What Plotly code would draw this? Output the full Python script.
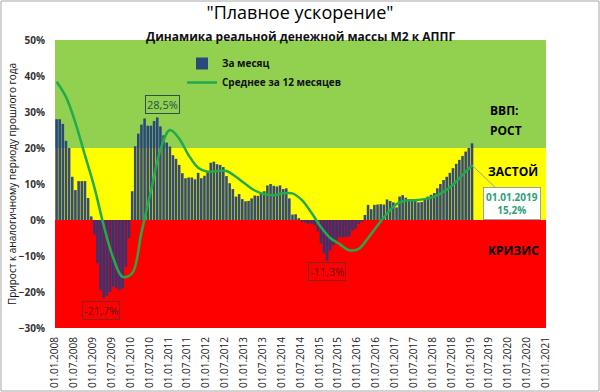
import plotly.graph_objects as go

# ---- data ----
start_year = 2008
monthly_growth = [
    # 2008
    28.0, 28.0, 26.7, 22.0, 20.0, 12.0, 8.3, 10.8, 10.8, 10.8, 6.1, 1.0,
    # 2009
    -4.0, -12.0, -19.5, -21.7, -21.0, -20.0, -18.5, -19.0, -19.5, -19.0, -13.0, -5.0,
    # 2010
    8.0, 20.5, 24.0, 26.5, 28.2, 26.2, 26.2, 27.5, 28.5, 26.0, 23.5, 21.5,
    # 2011
    20.4, 18.0, 17.0, 15.3, 13.0, 11.6, 11.8, 11.8, 11.3, 13.1, 11.6, 12.3,
    # 2012
    13.4, 15.9, 16.2, 15.5, 15.3, 14.7, 12.2, 10.2, 8.6, 6.5, 7.2, 5.8,
    # 2013
    5.2, 5.3, 6.0, 6.8, 6.7, 7.4, 8.0, 9.6, 10.0, 9.5, 9.3, 9.6,
    # 2014
    8.6, 8.8, 6.0, 1.5, 1.6, 0.5, -0.5, -0.8, -1.0, -1.0, -1.5, -3.2,
    # 2015
    -6.5, -9.3, -11.3, -8.5, -7.0, -5.5, -4.8, -4.8, -4.8, -4.5, -3.0, -2.5,
    # 2016
    -1.0, -0.5, 1.4, 4.2, 3.0, 4.2, 4.3, 4.4, 4.3, 5.7, 5.3, 4.9,
    # 2017
    3.5, 6.5, 6.9, 6.2, 5.5, 5.5, 5.5, 4.9, 5.0, 6.0, 6.5, 7.0,
    # 2018
    7.5, 8.8, 10.0, 11.1, 12.0, 13.1, 14.4, 15.6, 16.7, 17.8, 19.0, 20.0,
    # 2019
    21.3,
]

# 12-month average, read every quarter (Jan, Apr, Jul, Oct)
avg_12m = [
    38.4, 34.2, 27.0, 18.0,      # 2008
    9.0, -1.5, -10.5, -15.8,     # 2009
    -14.8, -3.5, 8.0, 19.5,      # 2010
    25.0, 22.6, 18.0, 14.5,      # 2011
    13.4, 13.6, 13.6, 12.0,      # 2012
    10.0, 8.2, 7.2, 6.9,         # 2013
    7.4, 7.4, 5.5, 2.0,          # 2014
    -2.0, -5.0, -6.7, -8.4,      # 2015
    -8.0, -5.0, -1.5, 1.8,       # 2016
    4.4, 5.4, 5.5, 5.8,          # 2017
    6.5, 7.8, 9.8, 12.5,         # 2018
    15.2,                        # 2019
]

zone_bounds = [-30, 0, 20, 50]
zone_colors = ["#FF0000", "#FFFF00", "#92D050"]
zone_labels = ["КРИЗИС", "ЗАСТОЙ", "ВВП:", "РОСТ"]

bar_dates = [f"{start_year + i // 12}-{i % 12 + 1:02d}-01" for i in range(len(monthly_growth))]
avg_dates = [f"{start_year + i // 4}-{(i % 4) * 3 + 1:02d}-01" for i in range(len(avg_12m))]

FONT = "Open Sans"
PW, PH = 491, 288  # plot area size in px

fig = go.Figure()
fig.add_trace(go.Bar(
    x=bar_dates, y=monthly_growth, name="За месяц",
    xperiod="M1", xperiodalignment="middle",
    marker=dict(color="rgba(31,58,128,0.9)", line=dict(width=0)),
))
fig.add_trace(go.Scatter(
    x=avg_dates, y=avg_12m, name="Среднее за 12 месяцев", mode="lines",
    xperiod="M1", xperiodalignment="middle",
    line=dict(color="#22AA4C", width=2.5, shape="spline", smoothing=1.0),
))

shapes = []
for i, c in enumerate(zone_colors):
    shapes.append(dict(type="rect", xref="paper", yref="y", x0=0, x1=1,
                       y0=zone_bounds[i], y1=zone_bounds[i + 1],
                       fillcolor=c, line=dict(width=0), layer="below"))
# outer frame
shapes.append(dict(type="rect", xref="paper", yref="paper",
                   x0=-54 / PW, x1=544 / PW, y0=-63 / PH, y1=1 + 39 / PH,
                   line=dict(color="#A6A6A6", width=1), fillcolor="rgba(0,0,0,0)"))

annotations = [
    dict(text="Динамика реальной денежной массы М2 к АППГ", xref="paper", yref="paper",
         x=0.5, y=1 + 3 / PH, xanchor="center", yanchor="middle", showarrow=False,
         font=dict(family=FONT, size=12, color="#111", weight="bold")),
    dict(text="Прирост к аналогичному периоду прошлого года", xref="paper", yref="paper",
         x=-43 / PW, y=0.5, xanchor="center", yanchor="middle", textangle=-90, showarrow=False,
         font=dict(family=FONT, size=10, color="#111")),
    dict(text="28,5%", x="2010-11-10", y=32.2, showarrow=False,
         font=dict(family=FONT, size=11, color="#1F4F4F"),
         bordercolor="#2F4F4F", borderwidth=1, borderpad=1),
    dict(text="-21,7%", x="2009-03-20", y=-25.0, showarrow=False,
         font=dict(family=FONT, size=11, color="#6B0F1A"),
         bordercolor="#8B2020", borderwidth=1, borderpad=1),
    dict(text="-11,3%", x="2015-03-20", y=-14.4, showarrow=False,
         font=dict(family=FONT, size=11, color="#6B0F1A"),
         bordercolor="#8B2020", borderwidth=1, borderpad=1),
    dict(text=zone_labels[2], xref="paper", yref="paper", x=433 / PW, y=1 - 70 / PH,
         xanchor="left", yanchor="middle", showarrow=False,
         font=dict(family=FONT, size=12, color="#000", weight="bold")),
    dict(text=zone_labels[3], xref="paper", yref="paper", x=433 / PW, y=1 - 90 / PH,
         xanchor="left", yanchor="middle", showarrow=False,
         font=dict(family=FONT, size=12, color="#000", weight="bold")),
    dict(text=zone_labels[1], xref="paper", yref="paper", x=431 / PW, y=1 - 132 / PH,
         xanchor="left", yanchor="middle", showarrow=False,
         font=dict(family=FONT, size=12, color="#000", weight="bold")),
    dict(text=zone_labels[0], xref="paper", yref="paper", x=431 / PW, y=1 - 210 / PH,
         xanchor="left", yanchor="middle", showarrow=False,
         font=dict(family=FONT, size=12, color="#000", weight="bold")),
    dict(text="01.01.2019<br>15,2%", x="2019-01-16", y=avg_12m[-1],
         showarrow=True, arrowhead=0, arrowwidth=1, arrowcolor="#A0A0A0",
         ax=40, ay=38, bgcolor="white", bordercolor="#A0A0A0", borderwidth=1, borderpad=2,
         font=dict(family=FONT, size=10, color="#2E9E78", weight="bold")),
]

fig.update_layout(
    width=600, height=392,
    margin=dict(l=55, r=54, t=40, b=64, autoexpand=False),
    paper_bgcolor="white", plot_bgcolor="white",
    font=dict(family=FONT, color="#222"),
    title=dict(text='"Плавное ускорение"', x=0.5, xanchor="center",
               y=1 - 13 / 392, yanchor="middle", yref="container",
               font=dict(family=FONT, size=18, color="#000")),
    bargap=0.15,
    showlegend=True,
    legend=dict(x=127 / PW, y=1 - 9 / PH, xanchor="left", yanchor="top",
                bgcolor="rgba(0,0,0,0)", font=dict(family=FONT, size=10, color="#111", weight="bold"),
                tracegroupgap=0, itemwidth=30),
    shapes=shapes,
    annotations=annotations,
    xaxis=dict(type="date", range=["2008-01-01", "2021-01-01"], automargin=False,
               tickformat="%d.%m.%Y", dtick="M6", tick0="2008-01-01",
               tickangle=-90, tickfont=dict(family=FONT, size=10, color="#222"),
               showgrid=False, zeroline=False, showline=False,
               ticks="outside", ticklen=4, tickcolor="rgba(0,0,0,0)"),
    yaxis=dict(range=[-30, 50], dtick=10, ticksuffix="%", automargin=False,
               tickfont=dict(family=FONT, size=10, color="#333", weight="bold"),
               showgrid=False, zeroline=False, showline=False,
               ticks="outside", ticklen=7, tickcolor="rgba(0,0,0,0)"),
)

fig.write_html("out.html", config={"displayModeBar": False},
               post_script="document.body.style.margin='0';document.body.style.overflow='hidden';")
